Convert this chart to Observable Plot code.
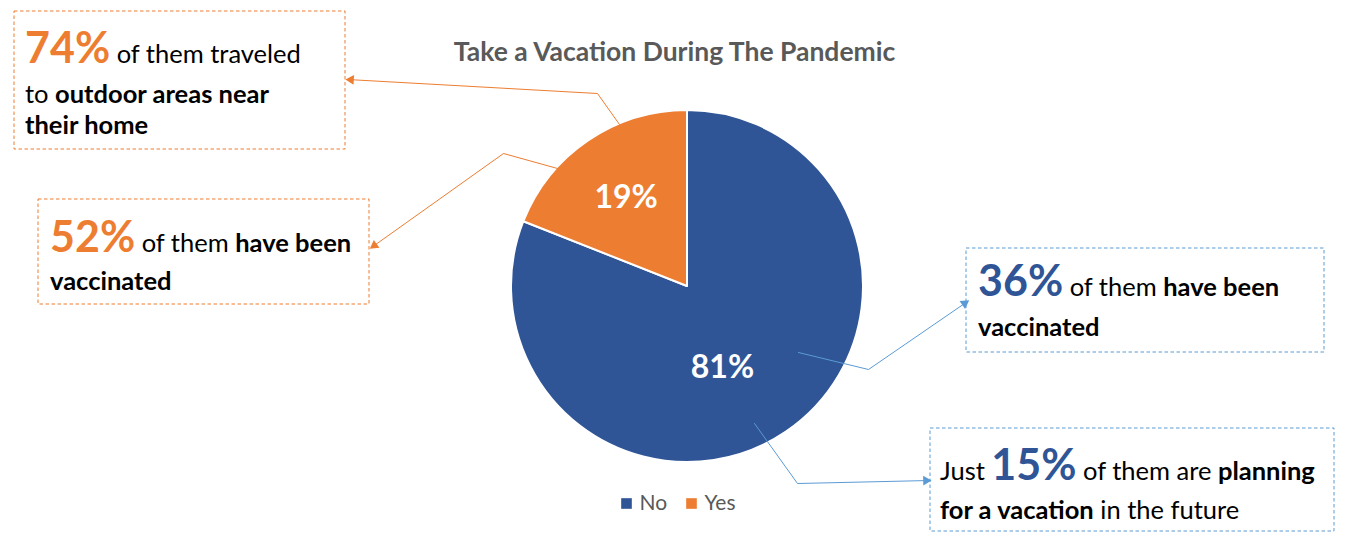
<!DOCTYPE html>
<html><head><meta charset="utf-8">
<script src="https://cdn.jsdelivr.net/npm/d3@7"></script>
<script src="https://cdn.jsdelivr.net/npm/@observablehq/plot@0.6"></script>
<style>
html,body{margin:0;padding:0;background:#fff;}
#chart{width:1350px;height:545px;}
</style>
</head><body><div id="chart"></div>
<script>
// ---------- data ----------
const title = "Take a Vacation During The Pandemic";
const categories = ["No", "Yes"];
const shares = [81, 19];
const sliceColors = ["#2F5597", "#ED7D31"];
const leaderColors = ["#5B9BD5", "#ED7D31"];
const calloutSlice = ["Yes", "Yes", "No", "No"];
const calloutText = [
  [[["n", "74%"], ["r", " of them traveled"]], [["r", "to "], ["b", "outdoor areas near"]], [["b", "their home"]]],
  [[["n", "52%"], ["r", " of them "], ["b", "have been"]], [["b", "vaccinated"]]],
  [[["n", "36%"], ["r", " of them "], ["b", "have been"]], [["b", "vaccinated"]]],
  [[["r", "Just "], ["n", "15%"], ["r", " of them are "], ["b", "planning"]], [["b", "for a vacation"], ["r", " in the future"]]]
];

// ---------- layout ----------
const W = 1350, H = 545;
const FONT = "Lato, 'Open Sans', 'DejaVu Sans', sans-serif";
const pie = {cx: 687, cy: 286, r: 176};
const boxes = [
  {x1: 14, y1: 11, x2: 345, y2: 149, tx: 25, lines: [63, 103, 134]},
  {x1: 38, y1: 199, x2: 369, y2: 304, tx: 50, lines: [252, 290]},
  {x1: 966, y1: 248, x2: 1324, y2: 352, tx: 978, lines: [296, 336]},
  {x1: 930, y1: 428, x2: 1334, y2: 531, tx: 940, lines: [480, 519]}
];
const leaders = [
  [[619, 124], [597, 93], [347, 79]],
  [[557, 168], [503, 153], [371, 247]],
  [[798, 352], [868, 369], [967, 301]],
  [[754, 423], [797, 483], [929, 480]]
];
const legendPos = [{x: 626, y: 503, tx: 639}, {x: 691, y: 503, tx: 704}];

// ---------- tables ----------
const slices = categories.map((c, i) => ({category: c, value: shares[i]}));
const total = d3.sum(shares);
const boxData = boxes.map((b, i) => ({...b, slice: calloutSlice[i]}));
const leaderData = leaders.flatMap((pts, i) => pts.map(([x, y]) => ({id: i, x, y, slice: calloutSlice[i]})));
const heads = leaders.map((pts, i) => {
  const [a, b] = [pts[pts.length - 2], pts[pts.length - 1]];
  const dx = b[0] - a[0], dy = b[1] - a[1], len = Math.hypot(dx, dy);
  const back = 3.5;
  return {x: b[0] - dx / len * back, y: b[1] - dy / len * back,
          rotate: Math.atan2(dx, -dy) * 180 / Math.PI, slice: calloutSlice[i]};
});
const legendData = categories.map((c, i) => ({category: c, ...legendPos[i]}));
const leaderColor = c => leaderColors[categories.indexOf(c)];

// pie render mark
function pieMark(index, scales) {
  const g = d3.create("svg:g");
  const X = scales.x(pie.cx), Y = scales.y(pie.cy);
  const R = scales.x(pie.cx + pie.r) - X;
  const arcs = d3.pie().sort(null).value(d => d.value)(slices);
  const arc = d3.arc().innerRadius(0).outerRadius(R);
  const gg = g.append("g").attr("transform", `translate(${X},${Y})`);
  gg.selectAll("path").data(arcs).join("path")
    .attr("d", arc)
    .attr("fill", d => scales.color(d.data.category))
    .attr("stroke", "#fff").attr("stroke-width", 2).attr("stroke-linejoin", "round");
  const labelR = [0.5, 0.615];
  gg.selectAll("text").data(arcs).join("text")
    .attr("transform", (d, i) => {
      const a = (d.startAngle + d.endAngle) / 2;
      let px = Math.sin(a) * R * labelR[i], py = -Math.cos(a) * R * labelR[i];
      if (i === 0) { px -= 14; py += 8; }
      return `translate(${px},${py})`;
    })
    .attr("text-anchor", "middle").attr("dy", "0.36em")
    .attr("font-family", FONT).attr("font-weight", "bold").attr("font-size", 32)
    .attr("fill", "#fff")
    .text(d => d3.format(".0%")(d.data.value / total));
  return g.node();
}

// rich callout text render mark
function calloutMark(index, scales) {
  const g = d3.create("svg:g").attr("font-family", FONT).attr("text-anchor", "start");
  calloutText.forEach((lines, i) => {
    const L = boxes[i];
    const color = scales.color(calloutSlice[i]);
    lines.forEach((segs, j) => {
      const t = g.append("text").attr("x", scales.x(L.tx)).attr("y", scales.y(L.lines[j]))
        .attr("fill", "#000").attr("font-size", 25.5).attr("text-anchor", "start");
      segs.forEach(([k, s]) => {
        const ts = t.append("tspan").text(s).attr("xml:space", "preserve").style("white-space", "pre");
        if (k === "n") ts.attr("font-size", 43).attr("font-weight", "bold").attr("fill", color);
        else if (k === "b") ts.attr("font-weight", "bold");
      });
    });
  });
  return g.node();
}

const chart = Plot.plot({
  width: W, height: H, margin: 0,
  x: {domain: [0, W], range: [0, W], axis: null},
  y: {domain: [0, H], range: [0, H], axis: null},
  color: {domain: categories, range: sliceColors},
  style: {background: "#fff", fontFamily: FONT},
  marks: [
    Plot.text([title], {x: () => 674, y: () => 52, text: d => d, fontSize: 26.5, fontWeight: "bold", fill: "#595959", textAnchor: "middle"}),
    pieMark,
    Plot.line(leaderData, {x: "x", y: "y", z: "id", stroke: d => leaderColor(d.slice), strokeWidth: 1}),
    Plot.dot(heads, {x: "x", y: "y", rotate: "rotate", symbol: "triangle", r: 3.6, fill: d => leaderColor(d.slice), stroke: "none"}),
    Plot.rect(boxData, {x1: "x1", y1: "y1", x2: "x2", y2: "y2", fill: "#fff", fillOpacity: 0, stroke: d => leaderColor(d.slice), strokeWidth: 1, strokeDasharray: "3.5,2.5"}),
    calloutMark,
    Plot.dot(legendData, {x: "x", y: "y", fill: "category", symbol: "square", r: 6}),
    Plot.text(legendData, {x: "tx", y: "y", text: "category", textAnchor: "start", fontSize: 21, fill: "#595959"})
  ]
});
document.getElementById("chart").append(chart);
</script>
</body></html>
